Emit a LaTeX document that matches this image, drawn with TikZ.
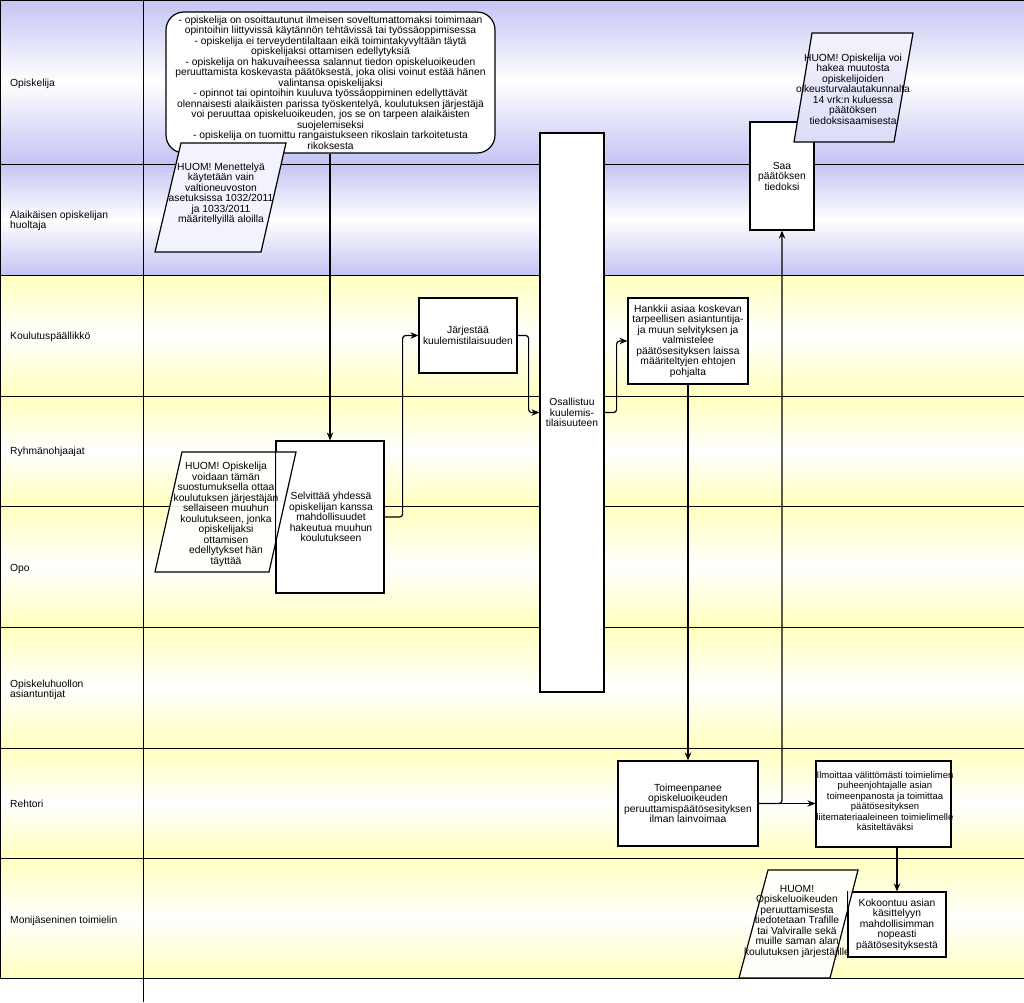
\documentclass[tikz,border=0pt]{standalone}
\usepackage{fontspec}
\setmainfont{Liberation Sans}
\usetikzlibrary{arrows.meta}
\definecolor{lav}{RGB}{196,196,244}
\definecolor{yel}{RGB}{255,255,190}
\begin{document}
\begin{tikzpicture}[x=1pt,y=-1pt,
  every node/.style={font=\fontsize{10.3}{10.5}\selectfont},
  box/.style={draw, fill=white, line width=1.2pt, align=center, inner sep=0pt},
  para/.style={line width=1.2pt},
  conn/.style={line width=1.2pt, rounded corners=3pt, -{Stealth[length=8pt,width=6.5pt]}},
  lane/.style={line width=1pt},
  lbl/.style={anchor=west, align=left, inner sep=0pt},
  txt/.style={align=center, inner sep=0pt}]
\useasboundingbox (0,0) rectangle (1024,1002);
% lane backgrounds
\shade[top color=lav, bottom color=lav, middle color=white] (0,0) rectangle (1024,164);
\shade[top color=lav, bottom color=lav, middle color=white] (0,164) rectangle (1024,275);
\foreach \a/\b in {275/396,396/506,506/627,627/748,748/858,858/978}
  \shade[top color=yel, bottom color=yel, middle color=white] (0,\a) rectangle (1024,\b);
\foreach \y in {0,164,275,396,506,627,748,858,978}
  \draw[lane] (0,\y) -- (1024,\y);
\draw[lane] (0,0) -- (0,978);
\draw[lane] (1024,0) -- (1024,978);
\draw[lane] (143,0) -- (143,1002);
% lane labels
\node[lbl] (l1) at (10,84) {Opiskelija};
\node[lbl] (l2) at (10,221) {Alaikäisen opiskelijan\\huoltaja};
\node[lbl] (l3) at (10,337) {Koulutuspäällikkö};
\node[lbl] (l4) at (10,452) {Ryhmänohjaajat};
\node[lbl] (l5) at (10,569) {Opo};
\node[lbl] (l6) at (10,690) {Opiskeluhuollon\\asiantuntijat};
\node[lbl] (l7) at (10,804) {Rehtori};
\node[lbl] (l8) at (10,921) {Monijäseninen toimielin};
% boxes
\node[box, rounded corners=18pt, minimum width=329, minimum height=141] (top) at (330.5,82.5) {- opiskelija on osoittautunut ilmeisen soveltumattomaksi toimimaan\\opintoihin liittyvissä käytännön tehtävissä tai työssäoppimisessa\\- opiskelija ei terveydentilaltaan eikä toimintakyvyltään täytä\\opiskelijaksi ottamisen edellytyksiä\\- opiskelija on hakuvaiheessa salannut tiedon opiskeluoikeuden\\peruuttamista koskevasta päätöksestä, joka olisi voinut estää hänen\\valintansa opiskelijaksi\\- opinnot tai opintoihin kuuluva työssäoppiminen edellyttävät\\olennaisesti alaikäisten parissa työskentelyä, koulutuksen järjestäjä\\voi peruuttaa opiskeluoikeuden, jos se on tarpeen alaikäisten\\suojelemiseksi\\- opiskelija on tuomittu rangaistukseen rikoslain tarkoitetusta\\rikoksesta};
\node[box, minimum width=64, minimum height=108] (saa) at (782,176) {Saa\\päätöksen\\tiedoksi};
\node[box, minimum width=98, minimum height=75] (jar) at (468,335.5) {Järjestää\\kuulemistilaisuuden};
\node[box, minimum width=64, minimum height=559] (osa) at (572,412.5) {Osallistuu\\kuulemis-\\tilaisuuteen};
\node[box, minimum width=120, minimum height=86] (han) at (688,341) {Hankkii asiaa koskevan\\tarpeellisen asiantuntija-\\ja muun selvityksen ja\\valmistelee\\päätösesityksen laissa\\määriteltyjen ehtojen\\pohjalta};
\node[box, minimum width=108, minimum height=152] (sel) at (330,517) {};
\node[box, minimum width=140, minimum height=85] (toi) at (688,803.5) {Toimeenpanee\\opiskeluoikeuden\\peruuttamispäätösesityksen\\ilman lainvoimaa};
\node[box, minimum width=135, minimum height=86] (ilm) at (883.5,804) {};
\node[txt, font=\fontsize{9.5}{10.5}\selectfont] (ilmt) at (885,801) {Ilmoittaa välittömästi toimielimen\\puheenjohtajalle asian\\toimeenpanosta ja toimittaa\\päätösesityksen\\liitemateriaaleineen toimielimelle\\käsiteltäväksi};
\node[box, minimum width=98, minimum height=65] (kok) at (897,924.5) {Kokoontuu asian\\käsittelyyn\\mahdollisimman\\nopeasti\\päätösesityksestä};
% connectors
\draw[conn] (sel.north |- top.south) -- (sel.north);
\draw[conn] (sel.east) -- ++(18,0) |- (jar.west);
\draw[conn] (jar.east) -- ++(11,0) |- (osa.west);
\draw[conn] (osa.east) -- ++(12,0) |- (han.west);
\draw[conn] (han.south) -- (han.south |- toi.north);
\draw[conn] (toi.east) -- (ilm.west |- toi.east);
\draw[conn] (toi.east) -| (saa.south);
\draw[conn] (kok.north |- ilm.south) -- (kok.north);
% parallelograms
\fill[lav!20] (181,143) -- (286,143) -- (261,252) -- (155,252) -- cycle;
\draw[para] (181,143) -- (286,143) -- (261,252) -- (155,252) -- cycle;
\node[txt] (p1) at (221,194) {HUOM! Menettelyä\\käytetään vain\\valtioneuvoston\\asetuksissa 1032/2011\\ja 1033/2011\\määritellyillä aloilla};
\shade[top color=lav!20, bottom color=lav!60] (812,33) -- (913,33) -- (894,142) -- (794,142) -- cycle;
\draw[para] (812,33) -- (913,33) -- (894,142) -- (794,142) -- cycle;
\node[txt] (p2) at (853,89) {HUOM! Opiskelija voi\\hakea muutosta\\opiskelijoiden\\oikeusturvalautakunnalta\\14 vrk:n kuluessa\\päätöksen\\tiedoksisaamisesta};
\fill[white, fill opacity=0.9] (182,452) -- (296,452) -- (269,572) -- (155,572) -- cycle;
\draw[line width=1.2pt] (sel.north west) -- (sel.south west);
\draw[para] (182,452) -- (296,452) -- (269,572) -- (155,572) -- cycle;
\node[txt] (p3) at (226,514.5) {HUOM! Opiskelija\\voidaan tämän\\suostumuksella ottaa\\koulutuksen järjestäjän\\sellaiseen muuhun\\koulutukseen, jonka\\opiskelijaksi\\ottamisen\\edellytykset hän\\täyttää};
\node[txt] (selt) at (331,517) {Selvittää yhdessä\\opiskelijan kanssa\\mahdollisuudet\\hakeutua muuhun\\koulutukseen};
\fill[white, fill opacity=0.9] (768,870) -- (858,870) -- (830,978) -- (739,978) -- cycle;
\draw[para] (768,870) -- (858,870) -- (830,978) -- (739,978) -- cycle;
\draw[line width=1.2pt] (kok.north west) -- (kok.south west);
\node[txt] (p4) at (797,921) {HUOM!\\Opiskeluoikeuden\\peruuttamisesta\\tiedotetaan Trafille\\tai Valviralle sekä\\muille saman alan\\koulutuksen järjestäjille};
\end{tikzpicture}
\end{document}
